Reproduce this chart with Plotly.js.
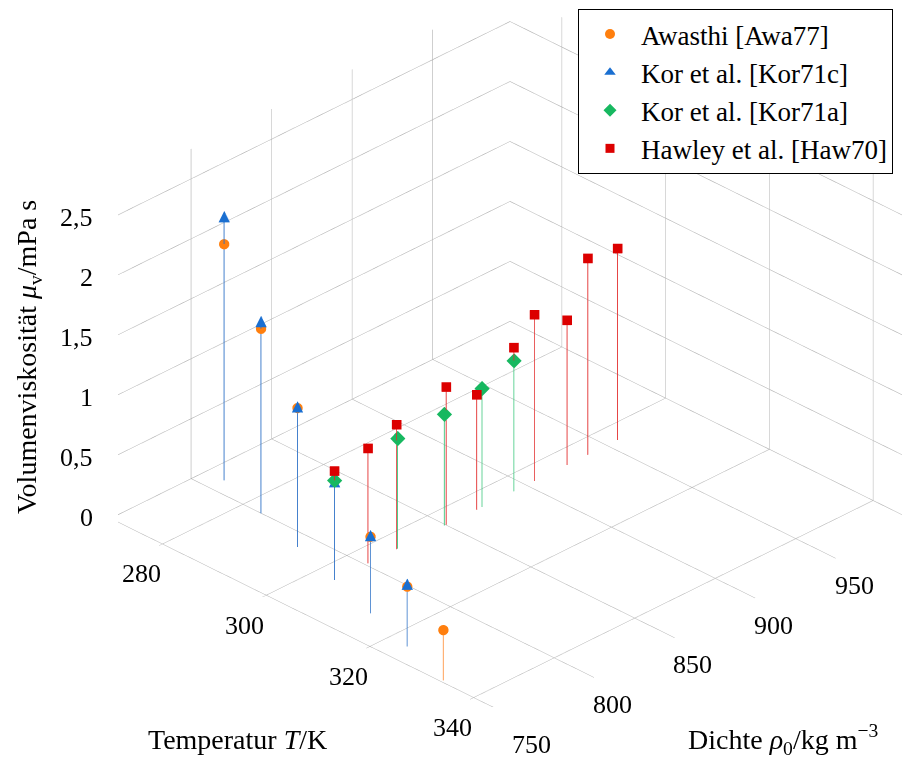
<!DOCTYPE html>
<html><head><meta charset="utf-8">
<script src="https://cdn.plot.ly/plotly-3.0.1.min.js"></script>
<style>html,body{margin:0;padding:0;background:#fff}#chart{width:902px;height:763px}</style>
</head><body><div id="chart"></div>
<script>
// Awasthi [Awa77]
var awaT   = [273.5, 283.5, 293.6, 313.6, 323.6, 333.7];
var awaRho = [809.2, 799.9, 790.0, 770.9, 761.5, 751.4];
var awaMu  = [1.97, 1.54, 1.16, 0.64, 0.50, 0.42];
// Kor et al. [Kor71c]
var korcT   = [273.5, 283.5, 293.6, 303.6, 313.6, 323.6];
var korcRho = [809.2, 799.9, 790.0, 780.8, 770.9, 761.5];
var korcMu  = [2.20, 1.60, 1.17, 0.82, 0.65, 0.52];
// Kor et al. [Kor71a]
var koraT   = [303.6, 303.6, 303.6, 303.6, 303.6];
var koraRho = [780.8, 820.0, 849.0, 872.4, 892.2];
var koraMu  = [0.83, 0.92, 0.93, 0.99, 1.09];
// Hawley et al. [Haw70]
var hawT   = [303.6, 303.6, 303.6, 303.6, 303.6, 303.6, 303.6, 303.6, 303.6, 303.6];
var hawRho = [780.8, 801.6, 819.4, 850.2, 869.1, 892.2, 905.0, 925.2, 938.1, 956.6];
var hawMu  = [0.91, 0.96, 1.04, 1.15, 0.96, 1.20, 1.39, 1.21, 1.64, 1.60];

var names = ['Awasthi [Awa77]', 'Kor et al. [Kor71c]', 'Kor et al. [Kor71a]', 'Hawley et al. [Haw70]'];
var tTicks = [280, 300, 320, 340];
var rhoTicks = [750, 800, 850, 900, 950];
var muTicks = [0, 0.5, 1, 1.5, 2, 2.5];
var muTickText = ['0', '0,5', '1', '1,5', '2', '2,5'];
var tRange = [270, 347], rhoRange = [750, 998], muRange = [0, 2.75];

var cOrange = '#ff7f0e', cBlue = '#1a6fd1', cGreen = '#17b860', cRed = '#dc0000';
var FONT = 'Liberation Serif';

// vertical comb line from each selected point down to the floor of the axis box (z = lower axis limit)
function stemTrace(T, rho, mu, col, op, keep) {
  var x = [], y = [], z = [];
  for (var i = 0; i < mu.length; i++) {
    if (keep && !keep[i]) continue;
    if (x.length) { x.push(null); y.push(null); z.push(null); }
    x.push(T[i], T[i]); y.push(rho[i], rho[i]); z.push(mu[i], muRange[0]);
  }
  return {type: 'scatter3d', mode: 'lines', x: x, y: y, z: z, showlegend: false, hoverinfo: 'skip',
          connectgaps: false, opacity: op, line: {color: col, width: 1.7}};
}

// Awasthi stems that share their (T, rho) position with a Kor71c stem lie underneath it
var awaShared = awaT.map(function (t, i) {
  return korcT.some(function (t2, j) { return t2 === t && korcRho[j] === awaRho[i]; });
});
var awaFree = awaShared.map(function (s) { return !s; });

var traces = [
  stemTrace(hawT, hawRho, hawMu, '#e22a2a', 1),
  stemTrace(koraT, koraRho, koraMu, '#35c679', 1),
  stemTrace(korcT, korcRho, korcMu, '#2a6fc6', 1),
  stemTrace(awaT, awaRho, awaMu, '#ff8424', 1, awaFree),
  stemTrace(awaT, awaRho, awaMu, '#ff7a12', 0.999, awaShared),
  {type: 'scatter3d', mode: 'markers', x: awaT, y: awaRho, z: awaMu, name: names[0], showlegend: false, hoverinfo: 'skip',
   marker: {symbol: 'circle', size: 6, color: cOrange, line: {width: 0}}},
  {type: 'scatter3d', mode: 'text', x: korcT, y: korcRho, z: korcMu, name: names[1], showlegend: false, hoverinfo: 'skip',
   text: korcMu.map(function () { return '▲'; }), textposition: 'middle center',
   textfont: {family: 'DejaVu Sans', size: 15, color: cBlue}},
  {type: 'scatter3d', mode: 'markers', x: koraT, y: koraRho, z: koraMu, name: names[2], showlegend: false, hoverinfo: 'skip',
   marker: {symbol: 'diamond', size: 5, color: cGreen, line: {width: 0}}},
  {type: 'scatter3d', mode: 'markers', x: hawT, y: hawRho, z: hawMu, name: names[3], showlegend: false, hoverinfo: 'skip',
   marker: {symbol: 'square', size: 5, color: cRed, line: {width: 0}}},
  // legend entries
  {type: 'scatter', mode: 'markers', x: [null], y: [null], name: names[0], marker: {symbol: 'circle', size: 10, color: cOrange}},
  {type: 'scatter', mode: 'markers', x: [null], y: [null], name: names[1], marker: {symbol: 'triangle-up', size: 10, color: cBlue}},
  {type: 'scatter', mode: 'markers', x: [null], y: [null], name: names[2], marker: {symbol: 'diamond', size: 10, color: cGreen}},
  {type: 'scatter', mode: 'markers', x: [null], y: [null], name: names[3], marker: {symbol: 'square', size: 9, color: cRed}}
];

function ax(range, vals) {
  return {range: range, autorange: false, tickmode: 'array', tickvals: vals, showticklabels: false,
    showgrid: true, gridcolor: '#b2b2b2', gridwidth: 1.2, zeroline: false, showline: false,
    showbackground: false, showspikes: false, ticks: 'outside', ticklen: 5, tickcolor: '#b2b2b2',
    title: {text: ''}};
}

var tickFont = {family: FONT, size: 26, color: '#000'};
var sceneAnn = [];
tTicks.forEach(function (t) {
  sceneAnn.push({x: t, y: rhoRange[0], z: muRange[0], text: String(t), showarrow: false,
    xanchor: 'center', yanchor: 'middle', xshift: -21, yshift: -30, font: tickFont});
});
rhoTicks.forEach(function (r) {
  sceneAnn.push({x: tRange[1], y: r, z: muRange[0], text: String(r), showarrow: false,
    xanchor: 'center', yanchor: 'middle', xshift: 22, yshift: -29, font: tickFont});
});
muTicks.forEach(function (m, i) {
  sceneAnn.push({x: tRange[0], y: rhoRange[0], z: m, text: muTickText[i], showarrow: false,
    xanchor: 'right', yanchor: 'middle', xshift: -15, yshift: 1, font: tickFont});
});

var titleFont = {family: FONT, size: 28, color: '#000'};
var layout = {
  width: 902, height: 763, margin: {l: 0, r: 0, t: 0, b: 0}, paper_bgcolor: '#fff',
  showlegend: true,
  xaxis: {visible: false}, yaxis: {visible: false},
  legend: {x: 893 / 902, xanchor: 'right', y: 1 - 9 / 763, yanchor: 'top', bgcolor: '#fff', bordercolor: '#000', borderwidth: 1,
    font: {family: FONT, size: 27, color: '#000'}, itemwidth: 52, tracegroupgap: 0},
  scene: {
    domain: {x: [0.1304, 1.0], y: [0.0736, 1.0]},
    aspectmode: 'manual', aspectratio: {x: 1.598, y: 1.598, z: 1.0726},
    camera: {eye: {x: 1.2301, y: -1.2301, z: 0.9868}, center: {x: 0, y: 0, z: 0}, up: {x: 0, y: 0, z: 1},
             projection: {type: 'orthographic'}},
    xaxis: ax(tRange, tTicks),
    yaxis: ax(rhoRange, rhoTicks),
    zaxis: ax(muRange, muTicks),
    annotations: sceneAnn
  },
  annotations: [
    {xref: 'paper', yref: 'paper', x: 237 / 902, y: 1 - 739 / 763, xanchor: 'center', yanchor: 'middle',
     text: 'Temperatur <i>T</i>/K', showarrow: false, font: titleFont},
    {xref: 'paper', yref: 'paper', x: 783 / 902, y: 1 - 739 / 763, xanchor: 'center', yanchor: 'middle',
     text: 'Dichte <i>ρ</i><sub>0</sub>/kg m<sup>−3</sup>', showarrow: false, font: titleFont},
    {xref: 'paper', yref: 'paper', x: 28 / 902, y: 1 - 357 / 763, xanchor: 'center', yanchor: 'middle',
     text: 'Volumenviskosität <i>μ</i><sub>v</sub>/mPa s', showarrow: false, textangle: -90, font: titleFont}
  ]
};

Plotly.newPlot('chart', traces, layout, {displayModeBar: false});
</script></body></html>
